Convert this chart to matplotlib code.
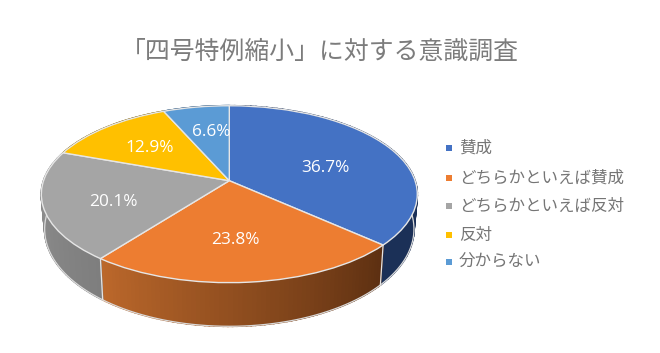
import numpy as np
import matplotlib
matplotlib.use("Agg")
import matplotlib.pyplot as plt
from matplotlib.transforms import Transform
from matplotlib.colors import to_rgb

plt.rcParams['font.family'] = ['Noto Sans CJK JP', 'DejaVu Sans']

title = "「四号特例縮小」に対する意識調査"
categories = ["賛成", "どちらかといえば賛成", "どちらかといえば反対", "反対", "分からない"]
values = [36.7, 23.8, 20.1, 12.9, 6.6]
colors = ["#4472C4", "#ED7D31", "#A5A5A5", "#FFC000", "#5B9BD5"]

# layout (pixel units of the 660x353 canvas)
W, H = 660, 353
APEX = (229.3, 180.7)
A, B, K = 185.8, 86.4, 0.1525      # top face perspective
A2, B2, D2 = 182.5, 95.0, 33.5     # lower rim perspective
wall_left = [None, "#BC682B", "#949494", None, None]
wall_right = [None, "#5C2F11", "#7E7E7E", None, None]
wall_flat = ["#1B3057", None, None, "#7F6000", "#2E5A85"]
label_xy = [(325, 167.5), (235, 239.5), (113, 201.5), (150, 147.5), (211, 132.5)]
legend_y = [148, 177.5, 205.5, 235, 262]


class Persp(Transform):
    input_dims = output_dims = 2
    is_separable = False
    has_inverse = False

    def __init__(self, a, b, dy=0.0):
        super().__init__()
        self.a, self.b, self.dy = a, b, dy

    def transform_non_affine(self, xy):
        xy = np.asarray(xy, float)
        den = 1 + K * xy[:, 1]
        return np.c_[APEX[0] + self.a * xy[:, 0] / den,
                     APEX[1] + self.dy - self.b * xy[:, 1] / den]


fig = plt.figure(figsize=(W / 100, H / 100), dpi=100)
ax = fig.add_axes([0, 0, 1, 1])
top_tr = Persp(A, B)
low_tr = Persp(A2, B2, D2)

# walls: thin strips between the top rim and the lower rim
fr = np.cumsum([0] + values) / sum(values)
for i in range(len(values)):
    th = np.pi * 2 * np.linspace(fr[i], fr[i + 1], 70)
    unit = np.c_[np.sin(th), np.cos(th)]
    p_top, p_low = top_tr.transform(unit), low_tr.transform(unit)
    for j in range(len(th) - 1):
        if wall_flat[i] is not None:
            c = wall_flat[i]
        else:
            t = (j + .5) / (len(th) - 1)
            # strips run clockwise: from the right side to the left side
            c = np.array(to_rgb(wall_right[i])) * (1 - t) + np.array(to_rgb(wall_left[i])) * t
        ax.fill([p_top[j, 0], p_top[j + 1, 0], p_low[j + 1, 0], p_low[j, 0]],
                [p_top[j, 1], p_top[j + 1, 1], p_low[j + 1, 1], p_low[j, 1]],
                facecolor=c, edgecolor=c, lw=1.2, zorder=1)

# light outline of the lower rim and seams at the slice boundaries
th = np.linspace(0, 2 * np.pi, 361)
rim = low_tr.transform(np.c_[np.sin(th), np.cos(th)])
ax.plot(rim[:, 0], rim[:, 1], color="#DADADA", lw=0.9, zorder=1.4)
for f in fr[1:3]:
    th = 2 * np.pi * f
    u = np.array([[np.sin(th), np.cos(th)]])
    a, b = top_tr.transform(u)[0], low_tr.transform(u)[0]
    ax.plot([a[0], b[0]], [a[1], b[1]], color="#E4E4E4", lw=0.9, zorder=1.5)

# top face
wedges, _ = ax.pie(values, colors=colors, startangle=90, counterclock=False,
                   wedgeprops=dict(edgecolor="#E6E6E6", linewidth=1.0, zorder=2))
for w in wedges:
    w.set_transform(top_tr + ax.transData)
    w.set_clip_on(False)

ax.set_aspect('auto')
ax.set_xlim(0, W)
ax.set_ylim(H, 0)
ax.axis('off')

for v, (x, y) in zip(values, label_xy):
    ax.text(x, y, f"{v:.1f}%", color="white", fontsize=12.4, ha="center", va="center",
            family="Open Sans", zorder=5)

ax.text(319.5, 52, title, fontsize=17.9, color="#7C7C7C", ha="center", va="center")

for name, c, y in zip(categories, colors, legend_y):
    ax.plot([449], [y], marker="s", ms=4.3, color=c, mew=0, ls="none", zorder=5)
    ax.text(459, y + 0.5, name, fontsize=11.9, color="#757575", ha="left", va="center")

fig.savefig("out.png", dpi=100)
